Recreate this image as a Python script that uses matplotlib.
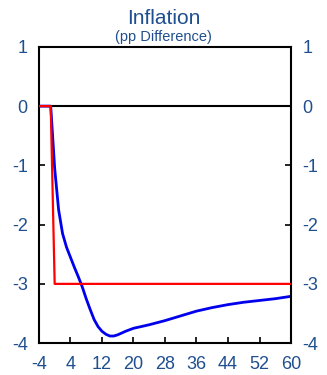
import matplotlib.pyplot as plt

# data
t_red = [-4, -1, 0, 60]
red = [0, 0, -3, -3]

t_blue = [-4, -1, 0, 1, 2, 3, 4, 5, 6, 7, 8, 9, 10, 11, 12, 13, 14, 15, 16, 18,
          20, 24, 28, 32, 36, 40, 44, 48, 52, 56, 60]
blue = [0, 0, -1.05, -1.75, -2.15, -2.38, -2.55, -2.72, -2.88, -3.05, -3.25, -3.43,
        -3.6, -3.72, -3.8, -3.85, -3.88, -3.88, -3.86, -3.8,
        -3.75, -3.69, -3.62, -3.54, -3.46, -3.4, -3.35, -3.31, -3.28, -3.25, -3.21]

xticks = list(range(-4, 61, 8))
yticks = [1, 0, -1, -2, -3, -4]

txt = '#1f4f8f'
plt.rcParams['font.family'] = ['Liberation Sans', 'DejaVu Sans']
plt.rcParams['axes.unicode_minus'] = False

fig = plt.figure(figsize=(3.27, 3.75), dpi=100)
ax = fig.add_axes([0.119, 0.085, 0.771, 0.79])

ax.axhline(0, color='black', lw=1.5, zorder=1)
ax.plot(t_red, red, color='#ff0000', lw=1.6, zorder=3)
ax.plot(t_blue, blue, color='#0000ee', lw=2.0, zorder=2)

ax.set_xlim(-4, 60)
ax.set_ylim(-4, 1)
ax.set_xticks(xticks)
ax.set_yticks(yticks)
ax.tick_params(axis='both', direction='in', length=4, width=1.2, colors='black',
               labelcolor=txt, labelsize=13)
ax.tick_params(axis='y', right=True, labelright=True, pad=8)
ax.tick_params(axis='x', pad=9)
for s in ax.spines.values():
    s.set_linewidth(1.5)

fig.text(0.5, 0.95, 'Inflation', ha='center', va='center', fontsize=15, color=txt)
fig.text(0.5, 0.9, '(pp Difference)', ha='center', va='center', fontsize=10.5, color=txt)

fig.savefig('out.png', dpi=100)
